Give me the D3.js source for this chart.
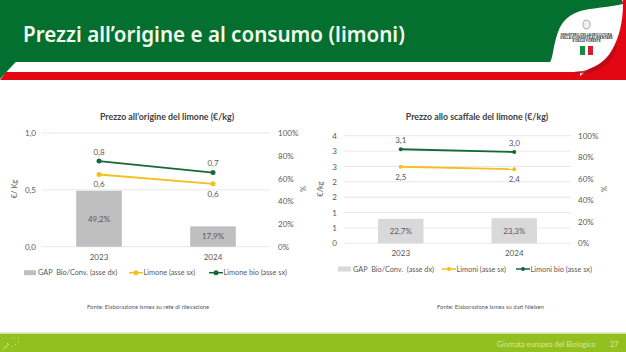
<!DOCTYPE html>
<html><head><meta charset="utf-8">
<script src="https://cdn.jsdelivr.net/npm/d3@7"></script>
<style>html,body{margin:0;padding:0;background:#fff;overflow:hidden}svg{display:block}text{font-family:Lato,sans-serif;white-space:pre}</style>
</head><body>
<svg id="c" width="626" height="352"></svg>
<script>
const years = ["2023","2024"];
const leftGap = [49.2,17.9];
const leftConv = [0.635,0.553];
const leftBio = [0.753,0.652];
const rightGap = [22.7,23.3];
const rightConv = [2.49,2.41];
const rightBio = [3.06,2.97];
const leftTicks = [0,0.5,1];
const rightTicks = [0,0.5,1,1.5,2,2.5,3,3.5];
const pctTicks = [0,20,40,60,80,100];

const TXT="#595959";
const svg=d3.select("#c");
const comma=v=>d3.format(".1f")(v).replace(".",",");

/* header */
svg.append("path").attr("fill","#04702f").attr("d","M0,0H622V62H16L0,79Z");
svg.append("path").attr("fill","#e30613").attr("d","M0,80L6,72H580V80Z");
svg.append("path").attr("fill","#e30613").attr("d","M623,0H626V80H575L600,60Z");
svg.append("path").attr("fill","#fff").attr("d","M16,62H560V71.5H7Z");
svg.append("path").attr("fill","#a80f18").attr("opacity",.8)
  .attr("d","M575,71.5C595,71 608,62 615,46L617,46C612,64 597,76 575,73Z");
svg.append("path").attr("fill","#fff")
  .attr("d","M550,62C553,58 553,46 558,32C563,18 574,11 590,9C602,7.5 614,6 623,4C623,22 619,38 612,50C604,64 590,71.5 570,71.5H550Z");
svg.append("text").attr("x",23).attr("y",41.7).attr("fill","#f4f8ee")
  .style("font-family","'Noto Sans'").style("font-weight",600).style("font-size","20.6px")
  .text("Prezzi all’origine e al consumo (limoni)");
const minis=["MINISTERO DELL’AGRICOLTURA","DELLA SOVRANITÀ ALIMENTARE","E DELLE FORESTE"];
svg.append("g").selectAll("text").data(minis).join("text")
  .attr("x",586.5).attr("y",(d,i)=>36.3+i*3).attr("text-anchor","middle").attr("fill","#333")
  .style("font-size","3.4px").style("font-weight",900).text(d=>d);
svg.append("ellipse").attr("cx",586.5).attr("cy",24.5).attr("rx",3.6).attr("ry",4.4)
  .attr("fill","#f0f0f0").attr("stroke","#aaa").attr("stroke-width",1);
[["#1a8a3c",580,5],["#d81e2c",588,5]].forEach(([f,x,w])=>svg.append("rect")
  .attr("x",x).attr("y",46).attr("width",w).attr("height",9).attr("fill",f));

/* footer */
svg.append("rect").attr("x",0).attr("y",333.5).attr("width",626).attr("height",18.5).attr("fill","#93c01f");
svg.append("rect").attr("x",0).attr("y",332.5).attr("width",626).attr("height",1).attr("fill","#d4e5a5");
svg.append("text").attr("x",497).attr("y",346.5).attr("fill","#d6e8a4").style("font-size","7.3px").text("Giornata europea del Biologico");
svg.append("text").attr("x",610).attr("y",346.5).attr("fill","#d6e8a4").style("font-size","7.3px").text("27");
svg.append("path").attr("d","M3,349L9,344M11,339l1,-1M14,338l1,-1M18,338l1,-1M7,344l1,-1M6,348l1,-1M11,347l1,-1M15,345l1,-1M18,342l1,-1")
  .attr("stroke","#e6f1c4").attr("stroke-width",.7).attr("fill","none");

function chart(o){
  const g=svg.append("g");
  const x=d3.scaleBand().domain(years).range([o.x0,o.x1]).paddingInner(.6).paddingOuter(.3);
  const y=d3.scaleLinear().domain([0,o.max]).range([o.y0,o.y1]);
  const yp=d3.scaleLinear().domain([0,100]).range([o.y0,o.y1]);
  const cx=d=>x(d)+x.bandwidth()/2;
  g.append("g").selectAll("line").data(o.ticks).join("line")
    .attr("x1",o.x0).attr("x2",o.x1).attr("y1",d=>y(d)).attr("y2",d=>y(d))
    .attr("stroke","#e8e8e8").attr("stroke-width",1);
  g.append("g").selectAll("rect").data(o.gap).join("rect")
    .attr("x",(d,i)=>x(years[i])).attr("width",x.bandwidth())
    .attr("y",d=>yp(d)).attr("height",d=>o.y0-yp(d)).attr("fill",o.barColor);
  g.append("g").selectAll("text").data(o.gap).join("text")
    .attr("x",(d,i)=>cx(years[i])).attr("y",d=>yp(d/2)).attr("dy","0.35em").attr("text-anchor","middle")
    .attr("fill",TXT).style("font-size","8px").text(d=>comma(d)+"%");
  const la=d3.axisLeft(y).tickValues(o.ticks).tickSize(0).tickPadding(0).tickFormat(o.fmt);
  const lg=g.append("g").attr("transform",`translate(${o.leftX},0)`).call(la);
  const ra=d3.axisRight(yp).tickValues(pctTicks).tickSize(0).tickPadding(0).tickFormat(d=>d+"%");
  const rg=g.append("g").attr("transform",`translate(${o.rightX},0)`).call(ra);
  const ba=d3.axisBottom(x).tickSize(0).tickPadding(0);
  const bg=g.append("g").attr("transform",`translate(0,${o.yearY})`).call(ba);
  [lg,rg,bg].forEach(a=>{a.select(".domain").remove();a.selectAll("text").attr("fill",TXT).style("font-size","8px").style("font-family","Lato");});
  const line=d3.line().x((d,i)=>cx(years[i])).y(d=>y(d));
  [[o.conv,"#f5bf1d",10],[o.bio,"#14693a",-9]].forEach(([s,col,dy])=>{
    g.append("path").attr("d",line(s)).attr("fill","none").attr("stroke",col).attr("stroke-width",1.8);
    g.append("g").selectAll("circle").data(s).join("circle")
      .attr("cx",(d,i)=>cx(years[i])).attr("cy",d=>y(d)).attr("r",o.r).attr("fill",col);
    g.append("g").selectAll("text").data(s).join("text")
      .attr("x",(d,i)=>cx(years[i])).attr("y",d=>y(d)+dy).attr("dy","0.35em").attr("text-anchor","middle")
      .attr("fill",TXT).style("font-size","8px").text(comma);
  });
  g.append("text").attr("x",o.titleX).attr("y",120).attr("text-anchor","middle").attr("fill","#404040")
    .style("font-size","8.8px").style("font-weight",700).text(o.title);
  g.append("text").attr("transform",`translate(${o.pctX},189) rotate(90)`)
    .attr("text-anchor","middle").attr("fill",TXT).style("font-size","7.5px").text("%");
  g.append("text").attr("transform",`translate(${o.unitX},189) rotate(-90)`)
    .attr("text-anchor","middle").attr("fill",TXT).style("font-size","7.5px").text(o.unit);
  const L=o.leg, ly=L.y;
  g.append("rect").attr("x",L.sw).attr("y",ly-2.5).attr("width",L.swW).attr("height",5).attr("fill",o.barColor);
  g.append("text").attr("x",L.sw+L.swW+2).attr("y",ly).attr("dy","0.35em").attr("fill",TXT).style("font-size","7.3px").text(L.names[0]);
  [[L.l1,"#f5bf1d",L.names[1]],[L.l2,"#14693a",L.names[2]]].forEach(([lx,col,n])=>{
    g.append("line").attr("x1",lx).attr("x2",lx+14).attr("y1",ly).attr("y2",ly).attr("stroke",col).attr("stroke-width",1.5);
    g.append("circle").attr("cx",lx+7).attr("cy",ly).attr("r",o.r).attr("fill",col);
    g.append("text").attr("x",lx+14.5).attr("y",ly).attr("dy","0.35em").attr("fill",TXT).style("font-size","7.3px").text(n);
  });
  g.append("text").attr("x",o.srcX).attr("y",308.5).attr("fill",TXT).style("font-size","5.9px").text(o.src);
}
chart({x0:42,x1:270,y0:246.7,y1:133,max:1,ticks:leftTicks,fmt:comma,gap:leftGap,conv:leftConv,bio:leftBio,
  barColor:"#bfbfbf",r:2.5,leftX:36,rightX:278,yearY:254.5,titleX:167,title:"Prezzo all’origine del limone (€/kg)",
  unit:"€/ Kg",unitX:17,pctX:300,srcX:87,src:"Fonte: Elaborazione Ismea su rete di rilevazione",
  leg:{y:272.7,sw:24,swW:12,l1:129,l2:209,names:["GAP  Bio/Conv. (asse dx)","Limone (asse sx)","Limone bio (asse sx)"]}});
chart({x0:344,x1:571,y0:243.3,y1:135.7,max:3.5,ticks:rightTicks,fmt:d=>String(Math.round(d)),gap:rightGap,conv:rightConv,bio:rightBio,
  barColor:"#d9d9d9",r:2,leftX:337,rightX:578,yearY:250.5,titleX:477,title:"Prezzo allo scaffale del limone (€/kg)",
  unit:"€/kg",unitX:323,pctX:601,srcX:437,src:"Fonte: Elaborazione Ismea su dati Nielsen",
  leg:{y:269,sw:338,swW:13,l1:442,l2:516,names:["GAP  Bio/Conv.  (asse dx)","Limoni (asse sx)","Limoni bio (asse sx)"]}});
</script>
</body></html>
